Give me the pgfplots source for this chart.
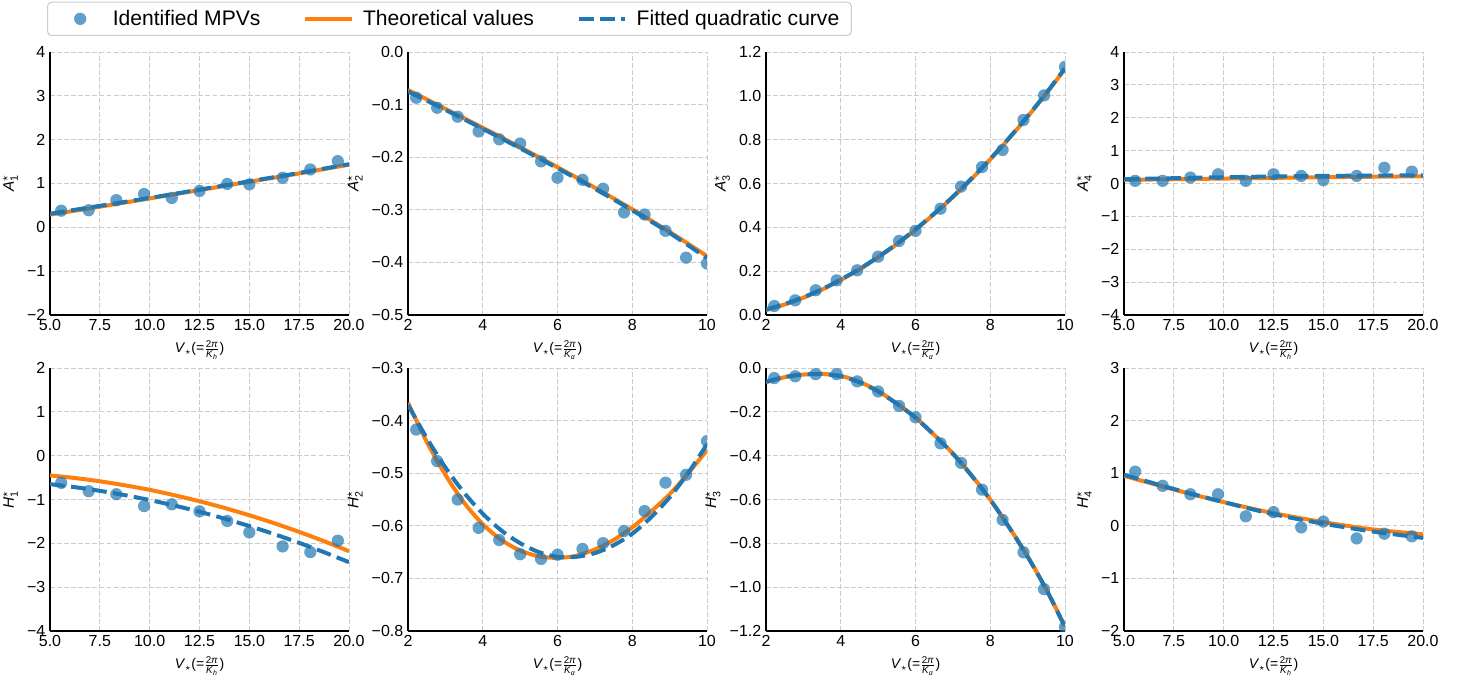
\documentclass[border=0pt]{standalone}
\usepackage{amsmath}
\usepackage{fontspec}
\setmainfont{Liberation Sans}
\usepackage{pgfplots}
\pgfplotsset{compat=1.18}
\definecolor{tabblue}{RGB}{31,119,180}
\definecolor{taborange}{RGB}{255,127,14}
\newcommand{\xlabh}{\textit{V}$_{\star}$(=$\frac{\text{2\textit{π}}}{\text{\textit{K}}_{\text{\textit{h}}}}$)}
\newcommand{\xlaba}{\textit{V}$_{\star}$(=$\frac{\text{2\textit{π}}}{\text{\textit{K}}_{\text{\textit{α}}}}$)}
\newcommand{\ylab}[2]{\textit{#1}$^{\star}_{\text{#2}}$}
\pgfplotsset{
  panel/.style={
    scale only axis, width=224.25pt, height=197.25pt, anchor=north west,
    axis x line*=bottom, axis y line*=left,
    axis line style={-, line width=2pt, black},
    major tick length=0pt,
    xmajorgrids, ymajorgrids,
    grid style={black!20, line width=0.6pt, dash pattern=on 3.7pt off 1.6pt},
    tick label style={font=\fontsize{12}{14}\selectfont},
    xlabel style={font=\fontsize{10.5}{12}\selectfont},
    ylabel style={font=\fontsize{11.5}{13}\selectfont},
    clip marker paths=true,
    scaled ticks=false,
  },
  hax/.style={xmin=5,xmax=20, xtick={5,7.5,10,12.5,15,17.5,20}, xticklabels={5.0,7.5,10.0,12.5,15.0,17.5,20.0}, xlabel={\xlabh}},
  aax/.style={xmin=2,xmax=10, xtick={2,4,6,8,10}, xticklabels={2,4,6,8,10}, xlabel={\xlaba}},
  dots/.style={only marks, mark=*, mark size=4.6pt, tabblue, mark options={fill=tabblue, draw opacity=0, fill opacity=0.7}},
  theo/.style={no marks, taborange, line width=3pt, smooth},
  fit/.style={no marks, tabblue, line width=3pt, dash pattern=on 11.1pt off 4.8pt, smooth},
  mklegend/.style={legend image code/.code={\path[draw=none] (0pt,0pt) -- (35pt,0pt);\fill[tabblue, fill opacity=0.7, draw opacity=0] (17.5pt,0pt) circle (4.6pt);}},
  lnlegend/.style={legend image code/.code={\draw[##1] (0pt,0pt) -- (35pt,0pt);}},
}
\begin{document}
\begin{tikzpicture}
\useasboundingbox (0pt,0pt) rectangle (1103.25pt,-510.75pt);
% ---------- A1 ----------
\begin{axis}[panel, hax, at={(37.5pt,-39pt)}, ymin=-2, ymax=4, ytick={-2,...,4},
  yticklabels={−2,−1,0,1,2,3,4}, ylabel={\ylab{A}{1}},
  legend columns=3,
  legend style={at={(-0.01,1)}, anchor=south west, yshift=12pt, draw=black!20, line width=0.8pt,
    rounded corners=3pt, font=\fontsize{15.8}{18}\selectfont, inner xsep=7pt, inner ysep=4pt,
    /tikz/every odd column/.append style={column sep=5pt},
    /tikz/every even column/.append style={column sep=30pt}}]
\addlegendimage{mklegend}\addlegendentry{Identified MPVs}
\addlegendimage{taborange, line width=3pt, lnlegend}\addlegendentry{Theoretical values}
\addlegendimage{tabblue, line width=3pt, dash pattern=on 11.1pt off 4.8pt, lnlegend}\addlegendentry{Fitted quadratic curve}
\addplot[theo, forget plot] coordinates {(5,0.29)(7.5,0.47)(10,0.66)(12.5,0.85)(15,1.04)(17.5,1.23)(20,1.43)};
\addplot[fit, forget plot] coordinates {(5,0.31)(7.5,0.49)(10,0.67)(12.5,0.86)(15,1.05)(17.5,1.24)(20,1.44)};
\addplot[dots, forget plot] coordinates {(5.56,0.38)(6.94,0.39)(8.33,0.62)(9.72,0.76)(11.11,0.67)(12.5,0.83)(13.89,0.99)(15.0,0.98)(16.67,1.13)(18.06,1.32)(19.44,1.51)};
\end{axis}
% ---------- A2 ----------
\begin{axis}[panel, aax, at={(306pt,-39pt)}, ymin=-0.5, ymax=0, ytick={-0.5,-0.4,-0.3,-0.2,-0.1,0},
  yticklabels={−0.5,−0.4,−0.3,−0.2,−0.1,0.0}, ylabel={\ylab{A}{2}}]
\addplot[theo] coordinates {(2,-0.072)(3,-0.108)(4,-0.144)(5,-0.181)(6,-0.219)(7,-0.258)(8,-0.299)(9,-0.342)(10,-0.388)};
\addplot[fit] coordinates {(2,-0.075)(3,-0.110)(4,-0.146)(5,-0.183)(6,-0.221)(7,-0.260)(8,-0.301)(9,-0.344)(10,-0.392)};
\addplot[dots] coordinates {(2.22,-0.087)(2.78,-0.106)(3.33,-0.123)(3.89,-0.151)(4.44,-0.166)(5.0,-0.174)(5.56,-0.208)(6.0,-0.239)(6.67,-0.243)(7.22,-0.260)(7.78,-0.305)(8.33,-0.309)(8.89,-0.340)(9.44,-0.391)(10.0,-0.402)};
\end{axis}
% ---------- A3 ----------
\begin{axis}[panel, aax, at={(574.5pt,-39pt)}, ymin=0, ymax=1.2, ytick={0,0.2,0.4,0.6,0.8,1.0,1.2},
  yticklabels={0.0,0.2,0.4,0.6,0.8,1.0,1.2}, ylabel={\ylab{A}{3}}]
\addplot[theo] coordinates {(2,0.022)(2.5,0.048)(3,0.079)(3.5,0.116)(4,0.160)(4.5,0.208)(5,0.263)(5.5,0.323)(6,0.389)(6.5,0.461)(7,0.538)(7.5,0.621)(8,0.710)(8.5,0.805)(9,0.905)(9.5,1.011)(10,1.123)};
\addplot[fit] coordinates {(2,0.025)(2.5,0.050)(3,0.081)(3.5,0.118)(4,0.162)(4.5,0.210)(5,0.265)(5.5,0.325)(6,0.391)(6.5,0.463)(7,0.540)(7.5,0.623)(8,0.712)(8.5,0.807)(9,0.907)(9.5,1.013)(10,1.126)};
\addplot[dots] coordinates {(2.22,0.041)(2.78,0.067)(3.33,0.113)(3.89,0.158)(4.44,0.204)(5.0,0.266)(5.56,0.338)(6.0,0.384)(6.67,0.485)(7.22,0.586)(7.78,0.675)(8.33,0.753)(8.89,0.890)(9.44,1.002)(10.0,1.132)};
\end{axis}
% ---------- A4 ----------
\begin{axis}[panel, hax, at={(843pt,-39pt)}, ymin=-4, ymax=4, ytick={-4,...,4},
  yticklabels={−4,−3,−2,−1,0,1,2,3,4}, ylabel={\ylab{A}{4}}]
\addplot[theo] coordinates {(5,0.11)(10,0.15)(15,0.19)(20,0.22)};
\addplot[fit] coordinates {(5,0.13)(10,0.19)(15,0.23)(20,0.25)};
\addplot[dots] coordinates {(5.56,0.08)(6.94,0.08)(8.33,0.18)(9.72,0.28)(11.11,0.08)(12.5,0.28)(13.89,0.23)(15.0,0.10)(16.67,0.23)(18.06,0.48)(19.44,0.36)};
\end{axis}
% ---------- H1 ----------
\begin{axis}[panel, hax, at={(37.5pt,-276pt)}, ymin=-4, ymax=2, ytick={-4,...,2},
  yticklabels={−4,−3,−2,−1,0,1,2}, ylabel={\ylab{H}{1}}]
\addplot[theo] coordinates {(5,-0.45)(6.25,-0.51)(7.5,-0.585)(8.75,-0.676)(10,-0.78)(11.25,-0.904)(12.5,-1.04)(13.75,-1.192)(15,-1.36)(16.25,-1.541)(17.5,-1.74)(18.75,-1.952)(20,-2.18)};
\addplot[fit] coordinates {(5,-0.65)(6.25,-0.719)(7.5,-0.802)(8.75,-0.900)(10,-1.012)(11.25,-1.139)(12.5,-1.28)(13.75,-1.436)(15,-1.606)(16.25,-1.790)(17.5,-1.989)(18.75,-2.203)(20,-2.43)};
\addplot[dots] coordinates {(5.56,-0.62)(6.94,-0.81)(8.33,-0.88)(9.72,-1.15)(11.11,-1.11)(12.5,-1.27)(13.89,-1.49)(15.0,-1.75)(16.67,-2.07)(18.06,-2.20)(19.44,-1.94)};
\end{axis}
% ---------- H2 ----------
\begin{axis}[panel, aax, at={(306pt,-276pt)}, ymin=-0.8, ymax=-0.3, ytick={-0.8,-0.7,-0.6,-0.5,-0.4,-0.3},
  yticklabels={−0.8,−0.7,−0.6,−0.5,−0.4,−0.3}, ylabel={\ylab{H}{2}}]
\addplot[theo] coordinates {(2,-0.366)(2.5,-0.44)(3,-0.503)(3.5,-0.556)(4,-0.597)(4.5,-0.627)(5,-0.647)(5.5,-0.658)(6,-0.661)(6.5,-0.657)(7,-0.645)(7.5,-0.627)(8,-0.603)(8.5,-0.573)(9,-0.54)(9.5,-0.50)(10,-0.456)};
\addplot[fit] coordinates {(2,-0.370)(2.5,-0.433)(3,-0.489)(3.5,-0.537)(4,-0.577)(4.5,-0.609)(5,-0.633)(5.5,-0.650)(6,-0.659)(6.5,-0.659)(7,-0.652)(7.5,-0.637)(8,-0.615)(8.5,-0.584)(9,-0.546)(9.5,-0.499)(10,-0.445)};
\addplot[dots] coordinates {(2.22,-0.417)(2.78,-0.477)(3.33,-0.550)(3.89,-0.604)(4.44,-0.627)(5.0,-0.654)(5.56,-0.663)(6.0,-0.655)(6.67,-0.644)(7.22,-0.633)(7.78,-0.610)(8.33,-0.572)(8.89,-0.518)(9.44,-0.503)(10.0,-0.439)};
\end{axis}
% ---------- H3 ----------
\begin{axis}[panel, aax, at={(574.5pt,-276pt)}, ymin=-1.2, ymax=0, ytick={-1.2,-1.0,-0.8,-0.6,-0.4,-0.2,0},
  yticklabels={−1.2,−1.0,−0.8,−0.6,−0.4,−0.2,0.0}, ylabel={\ylab{H}{3}}]
\addplot[theo] coordinates {(2,-0.065)(2.5,-0.042)(3,-0.030)(3.5,-0.027)(4,-0.036)(4.5,-0.063)(5,-0.105)(5.5,-0.162)(6,-0.226)(6.5,-0.305)(7,-0.39)(7.5,-0.49)(8,-0.60)(8.5,-0.725)(9,-0.86)(9.5,-1.01)(10,-1.18)};
\addplot[fit] coordinates {(2,-0.063)(2.5,-0.041)(3,-0.030)(3.5,-0.028)(4,-0.038)(4.5,-0.065)(5,-0.107)(5.5,-0.163)(6,-0.227)(6.5,-0.306)(7,-0.391)(7.5,-0.491)(8,-0.601)(8.5,-0.726)(9,-0.861)(9.5,-1.011)(10,-1.182)};
\addplot[dots] coordinates {(2.22,-0.046)(2.78,-0.038)(3.33,-0.028)(3.89,-0.028)(4.44,-0.061)(5.0,-0.107)(5.56,-0.173)(6.0,-0.225)(6.67,-0.344)(7.22,-0.433)(7.78,-0.555)(8.33,-0.693)(8.89,-0.841)(9.44,-1.009)(10.0,-1.182)};
\end{axis}
% ---------- H4 ----------
\begin{axis}[panel, hax, at={(843pt,-276pt)}, ymin=-2, ymax=3, ytick={-2,...,3},
  yticklabels={−2,−1,0,1,2,3}, ylabel={\ylab{H}{4}}]
\addplot[theo] coordinates {(5,0.95)(7.5,0.69)(10,0.45)(12.5,0.24)(15,0.07)(17.5,-0.07)(20,-0.16)};
\addplot[fit] coordinates {(5,0.97)(7.5,0.70)(10,0.45)(12.5,0.22)(15,0.04)(17.5,-0.11)(20,-0.23)};
\addplot[dots] coordinates {(5.56,1.03)(6.94,0.76)(8.33,0.60)(9.72,0.60)(11.11,0.18)(12.5,0.26)(13.89,-0.03)(15.0,0.08)(16.67,-0.24)(18.06,-0.15)(19.44,-0.20)};
\end{axis}
\end{tikzpicture}
\end{document}
